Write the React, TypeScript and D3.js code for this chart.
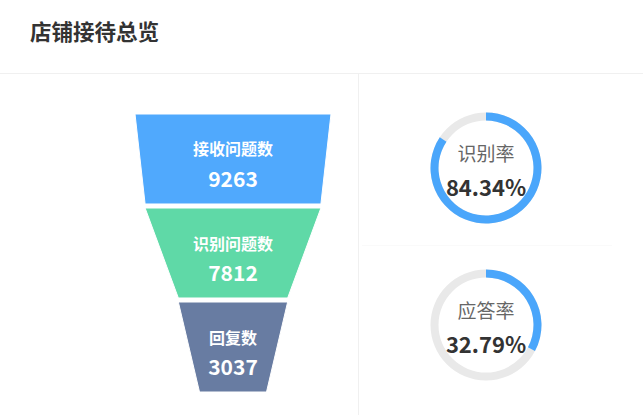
import React from "react";
import * as d3 from "d3";

const title = "店铺接待总览";
const funnelNames = ["接收问题数", "识别问题数", "回复数"];
const funnelValues = [9263, 7812, 3037];
const funnelColors = ["#50a9fd", "#5fd9a7", "#687ca2"];
const gaugeNames = ["识别率", "应答率"];
const gaugeValues = [84.34, 32.79];

const W = 643;
const H = 415;
const FONT = "'Noto Sans CJK SC', 'Noto Sans', sans-serif";

export default function App() {
  const cx = 233;
  const widthScale = d3.scaleLinear().domain([0, d3.max(funnelValues) as number]).range([67, 196]);
  const yBand = d3.scaleBand<string>().domain(funnelNames).range([114, 392]).paddingInner(0.0426).paddingOuter(0);

  const gaugeCx = 486;
  const gaugeY = d3.scalePoint<string>().domain(gaugeNames).range([168, 325]);
  const pctScale = d3.scaleLinear().domain([0, 100]).range([0, 2 * Math.PI]);
  const arc = d3.arc<any>().innerRadius(47.5).outerRadius(55.5);

  return (
    <div style={{ position: "absolute", left: 0, top: 0, width: W, height: H, background: "#fff" }}>
      <svg width={W} height={H} style={{ display: "block", fontFamily: FONT }}>
        <rect x={0} y={0} width={W} height={H} fill="#fff" />
        <text x={30} y={30} dominantBaseline="central" fontSize={21.5} fontWeight={700} fill="#333">{title}</text>
        <line x1={0} x2={W} y1={73.5} y2={73.5} stroke="#f0f0f0" strokeWidth={1} />
        <line x1={358.5} x2={358.5} y1={74} y2={H} stroke="#f0f0f0" strokeWidth={1} />
        <line x1={362} x2={612} y1={245.5} y2={245.5} stroke="#fafafa" strokeWidth={1} />

        {funnelNames.map((name, i) => {
          const y0 = yBand(name) as number;
          const y1 = y0 + yBand.bandwidth();
          const wTop = widthScale(funnelValues[i]);
          const wBot = widthScale(i + 1 < funnelValues.length ? funnelValues[i + 1] : 0);
          const pts = [
            [cx - wTop / 2, y0],
            [cx + wTop / 2, y0],
            [cx + wBot / 2, y1],
            [cx - wBot / 2, y1],
          ];
          const mid = (y0 + y1) / 2;
          return (
            <g key={name}>
              <path d={(d3.line()(pts as [number, number][]) as string) + "Z"} fill={funnelColors[i]} stroke="#fff" strokeWidth={1} />
              <text x={cx} y={mid - 10.5} textAnchor="middle" dominantBaseline="central" fontSize={16} fontWeight={700} fill="#fff">{name}</text>
              <text x={cx} y={mid + 19} textAnchor="middle" dominantBaseline="central" fontSize={21} fontWeight={700} fill="#fff">{funnelValues[i]}</text>
            </g>
          );
        })}

        {gaugeNames.map((name, i) => {
          const cy = gaugeY(name) as number;
          return (
            <g key={name} transform={`translate(${gaugeCx},${cy})`}>
              <path d={arc({ startAngle: 0, endAngle: 2 * Math.PI }) as string} fill="#e9e9e9" />
              <path d={arc({ startAngle: 0, endAngle: pctScale(gaugeValues[i]) }) as string} fill="#4aa6fb" />
              <text x={0} y={-16} textAnchor="middle" dominantBaseline="central" fontSize={19} fill="#666">{name}</text>
              <text x={0} y={18} textAnchor="middle" dominantBaseline="central" fontSize={22} fontWeight={700} fill="#333">{gaugeValues[i].toFixed(2)}%</text>
            </g>
          );
        })}
      </svg>
    </div>
  );
}
